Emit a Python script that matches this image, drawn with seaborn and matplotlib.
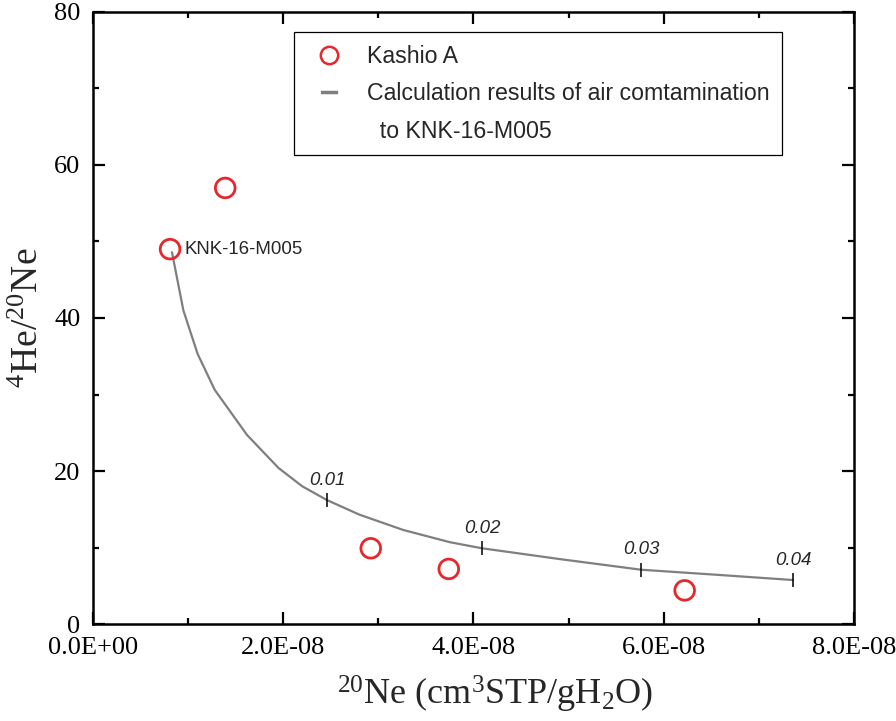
import matplotlib
matplotlib.use("Agg")
import matplotlib.pyplot as plt
import seaborn as sns
import numpy as np
import pandas as pd
from matplotlib.lines import Line2D
from matplotlib.ticker import MultipleLocator

# ---- data ----
kashio_ne = [0.81e-8, 1.39e-8, 2.92e-8, 3.74e-8, 6.22e-8]
kashio_ratio = [49.0, 57.0, 9.9, 7.2, 4.4]

curve_ne = [0.83e-8, 0.95e-8, 1.10e-8, 1.28e-8, 1.62e-8, 1.95e-8, 2.20e-8, 2.46e-8,
            2.80e-8, 3.26e-8, 3.75e-8, 4.09e-8, 4.90e-8, 5.76e-8, 6.60e-8, 7.36e-8]
curve_ratio = [48.6, 41.0, 35.3, 30.6, 24.7, 20.4, 18.0, 16.2,
               14.3, 12.3, 10.7, 9.9, 8.5, 7.1, 6.4, 5.75]

frac_labels = ["0.01", "0.02", "0.03", "0.04"]
frac_ne = [2.46e-8, 4.09e-8, 5.76e-8, 7.36e-8]
frac_ratio = [16.2, 9.9, 7.1, 5.75]

x_ticks = [0, 2e-8, 4e-8, 6e-8, 8e-8]
x_ticklabels = ["0.0E+00", "2.0E-08", "4.0E-08", "6.0E-08", "8.0E-08"]
y_ticks = [0, 20, 40, 60, 80]

sns.set_theme(style="white")
plt.rcParams['font.family'] = ['Liberation Serif', 'DejaVu Serif']
plt.rcParams['mathtext.fontset'] = 'custom'
plt.rcParams['mathtext.rm'] = 'Liberation Serif'
plt.rcParams['mathtext.it'] = 'Liberation Serif:italic'
plt.rcParams['lines.scale_dashes'] = False

sans = ['Liberation Sans', 'DejaVu Sans']

fig = plt.figure(figsize=(8.96, 7.21), dpi=100)
ax = fig.add_axes([0.1038, 0.1345, 0.9531 - 0.1038, 0.9834 - 0.1345])

red = '#e8262b'
grey = '#7f7f7f'

df_c = pd.DataFrame({"ne": curve_ne, "ratio": curve_ratio})
sns.lineplot(data=df_c, x="ne", y="ratio", sort=False, estimator=None,
             color=grey, lw=1.6, ax=ax, zorder=2)

df_f = pd.DataFrame({"ne": frac_ne, "ratio": frac_ratio})
sns.scatterplot(data=df_f, x="ne", y="ratio", marker='|', s=90, color='black',
                linewidth=1.1, ax=ax, zorder=3)
for lab, xv, yv in zip(frac_labels, frac_ne, frac_ratio):
    ax.text(xv, yv + 1.5, lab, fontsize=13.5, style='italic', ha='center', va='bottom',
            family=sans)

df_k = pd.DataFrame({"ne": kashio_ne, "ratio": kashio_ratio})
sns.scatterplot(data=df_k, x="ne", y="ratio", marker='o', s=200,
                facecolor='none', edgecolor=red, linewidth=2.0, ax=ax, zorder=4)

ax.text(kashio_ne[0] + 0.15e-8, kashio_ratio[0], "KNK-16-M005", fontsize=13.4,
        ha='left', va='center', family=sans)

ax.set_xlim(0, 8e-8)
ax.set_ylim(0, 80)
ax.set_xticks(x_ticks)
ax.set_xticklabels(x_ticklabels)
ax.set_yticks(y_ticks)
ax.xaxis.set_minor_locator(MultipleLocator(1e-8))
ax.yaxis.set_minor_locator(MultipleLocator(10))
ax.tick_params(which='both', direction='in', top=True, right=True, bottom=True, left=True,
               labelsize=19, width=1.6, color='black', labelcolor='black')
ax.tick_params(which='major', length=8.5, pad=9)
ax.tick_params(which='minor', length=4.5)
for sp in ax.spines.values():
    sp.set_visible(True)
    sp.set_color('black')
    sp.set_linewidth(1.8)

ax.set_xlabel(r'$^{20}$Ne (cm$^{3}$STP/gH$_{2}$O)', fontsize=26, labelpad=10)
ax.xaxis.set_label_coords(0.528, -0.082)
ax.set_ylabel(r'$^{4}$He/$^{20}$Ne', fontsize=27, labelpad=6)

handles = [
    Line2D([], [], marker='o', ls='none', markerfacecolor='none', markeredgecolor=red,
           markeredgewidth=1.8, markersize=12.5),
    Line2D([], [], color=grey, lw=2.5, ls=(102.75, (12.4, 100))),
    Line2D([], [], ls='none'),
]
labels = ["Kashio A", "Calculation results of air comtamination", "  to KNK-16-M005"]
leg = ax.legend(handles, labels, loc='upper left', bbox_to_anchor=(0.264, 0.967),
                frameon=True, fancybox=False, edgecolor='black', framealpha=1,
                prop={'family': sans, 'size': 16.7},
                handlelength=1.9, handletextpad=0.69, labelspacing=0.62,
                borderpad=0.55, borderaxespad=0)
leg.get_frame().set_linewidth(0.9)

fig.savefig("out.png", dpi=100)
